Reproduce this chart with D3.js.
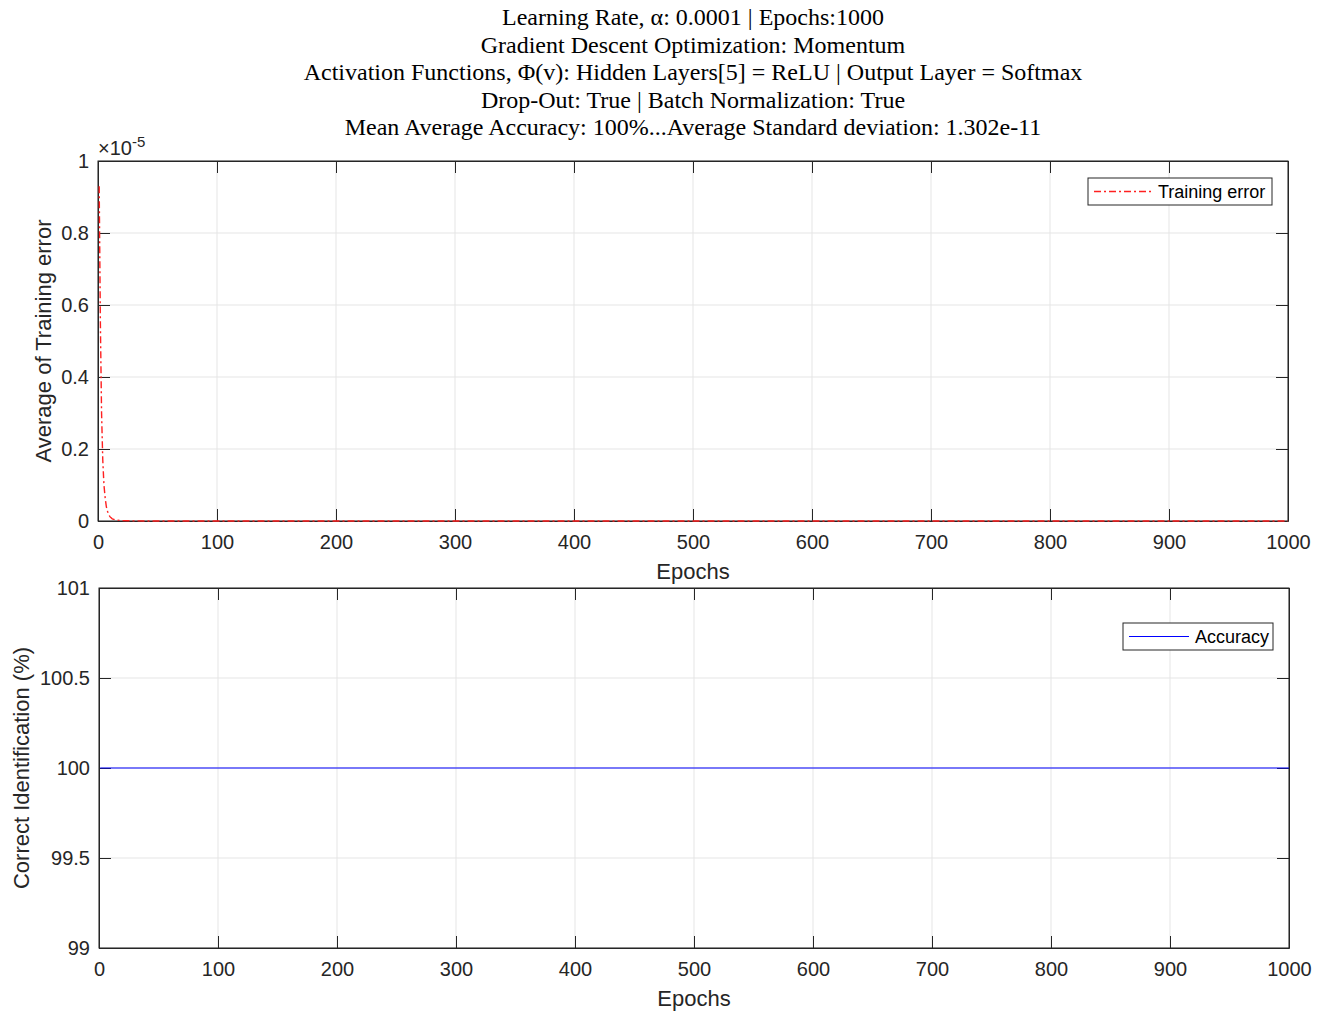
<!DOCTYPE html>
<html>
<head>
<meta charset="utf-8">
<script src="https://cdn.jsdelivr.net/npm/d3@7"></script>
<style>
  body { margin: 0; background: #fff; }
  svg { display: block; }
  text { font-family: "Liberation Sans", Arial, sans-serif; fill: #262626; }
</style>
</head>
<body>
<svg id="svg" width="1325" height="1012"></svg>
<script>
(function() {

    const svg = d3.select('#svg')

    // title lines
    const titleLines = [
        "Learning Rate, \u03B1: 0.0001 | Epochs:1000",
        "Gradient Descent Optimization: Momentum",
        "Activation Functions, \u03A6(v): Hidden Layers[5] = ReLU | Output Layer = Softmax",
        "Drop-Out: True | Batch Normalization: True",
        "Mean Average Accuracy: 100%...Average Standard deviation: 1.302e-11"
    ]

    // training error (x 1e-5)
    const errEpochs = [1, 2, 3, 4, 5, 6, 7, 8, 9, 10, 12, 15, 20, 30, 40, 1000]
    const errValues = [0.93, 0.55, 0.30, 0.17, 0.10, 0.065, 0.04, 0.027, 0.018, 0.012, 0.006, 0.003, 0.001, 0.0003, 0.0001, 0]

    // accuracy (%)
    const accEpochs = [1, 1000]
    const accValues = [100, 100]

    const xTicks = [0, 100, 200, 300, 400, 500, 600, 700, 800, 900, 1000]
    const errTicks = [0, 0.2, 0.4, 0.6, 0.8, 1]
    const accTicks = [99, 99.5, 100, 100.5, 101]

    const axisColor = '#262626'
    const gridColor = '#e5e5e5'

    // title
    svg.append('g').selectAll('text')
        .data(titleLines)
        .enter()
        .append('text')
            .attr('x', 693)
            .attr('y', (d, i) => 25 + i * 27.6)
            .attr('text-anchor', 'middle')
            .style('font-family', '"Liberation Serif", "Times New Roman", serif')
            .style('font-size', '24px')
            .style('fill', '#000')
            .text(d => d)

    function drawAxes(opts) {
        const g = svg.append('g')
        const x = d3.scaleLinear().domain([0, 1000]).range([opts.left, opts.right])
        const y = d3.scaleLinear().domain(opts.yDomain).range([opts.bottom, opts.top])

        // grid
        g.selectAll('.vgrid')
            .data(xTicks)
            .enter()
            .append('line')
                .attr('x1', d => x(d)).attr('x2', d => x(d))
                .attr('y1', opts.top).attr('y2', opts.bottom)
                .style('stroke', gridColor)
                .style('stroke-width', 1)
        g.selectAll('.hgrid')
            .data(opts.yTicks)
            .enter()
            .append('line')
                .attr('x1', opts.left).attr('x2', opts.right)
                .attr('y1', d => y(d)).attr('y2', d => y(d))
                .style('stroke', gridColor)
                .style('stroke-width', 1)

        // axes with inward ticks
        const tickLen = 12
        const fmt = d => String(d)
        const bottomAxis = d3.axisBottom(x).tickValues(xTicks).tickSizeInner(-tickLen).tickSizeOuter(0).tickPadding(14).tickFormat(fmt)
        const topAxis = d3.axisTop(x).tickValues(xTicks).tickSizeInner(-tickLen).tickSizeOuter(0).tickFormat('')
        const leftAxis = d3.axisLeft(y).tickValues(opts.yTicks).tickSizeInner(-tickLen).tickSizeOuter(0).tickPadding(9).tickFormat(fmt)
        const rightAxis = d3.axisRight(y).tickValues(opts.yTicks).tickSizeInner(-tickLen).tickSizeOuter(0).tickFormat('')

        const axes = [
            g.append('g').attr('transform', `translate(0,${opts.bottom})`).call(bottomAxis),
            g.append('g').attr('transform', `translate(0,${opts.top})`).call(topAxis),
            g.append('g').attr('transform', `translate(${opts.left},0)`).call(leftAxis),
            g.append('g').attr('transform', `translate(${opts.right},0)`).call(rightAxis)
        ]
        axes.forEach(a => {
            a.select('.domain').style('stroke', axisColor).style('stroke-width', 1)
            a.selectAll('.tick line').style('stroke', axisColor)
            a.selectAll('.tick text')
                .style('font-family', '"Liberation Sans", Arial, sans-serif')
                .style('font-size', '20px')
                .style('fill', axisColor)
        })
        g.append('rect')
            .attr('x', opts.left).attr('y', opts.top)
            .attr('width', opts.right - opts.left).attr('height', opts.bottom - opts.top)
            .style('fill', 'none')
            .style('stroke', axisColor)
            .style('stroke-width', 1)

        // data line
        const line = d3.line()
            .x(d => x(d[0]))
            .y(d => y(d[1]))
        g.append('path')
            .datum(d3.zip(opts.xs, opts.ys))
            .attr('d', line)
            .style('fill', 'none')
            .style('stroke', opts.color)
            .style('stroke-width', opts.width)
            .style('stroke-dasharray', opts.dash)

        // x label
        g.append('text')
            .attr('x', (opts.left + opts.right) / 2)
            .attr('y', opts.bottom + 58)
            .attr('text-anchor', 'middle')
            .style('font-size', '22px')
            .text('Epochs')

        // y label
        g.append('text')
            .attr('transform', `translate(${opts.yLabelX},${(opts.top + opts.bottom) / 2}) rotate(-90)`)
            .attr('text-anchor', 'middle')
            .style('font-size', '22px')
            .text(opts.yLabel)

        // legend
        const lg = g.append('g')
        lg.append('rect')
            .attr('x', opts.legend.x).attr('y', opts.legend.y)
            .attr('width', opts.legend.w).attr('height', 27)
            .style('fill', '#fff')
            .style('stroke', axisColor)
            .style('stroke-width', 1)
        lg.append('line')
            .attr('x1', opts.legend.x + 6).attr('x2', opts.legend.x + opts.legend.lineW)
            .attr('y1', opts.legend.y + 13.5).attr('y2', opts.legend.y + 13.5)
            .style('stroke', opts.color)
            .style('stroke-width', opts.width)
            .style('stroke-dasharray', opts.dash)
        lg.append('text')
            .attr('x', opts.legend.x + opts.legend.lineW + 6)
            .attr('y', opts.legend.y + 20)
            .style('font-size', '18px')
            .style('fill', '#000')
            .text(opts.legend.label)

        return g
    }

    const top = drawAxes({
        left: 98, right: 1288, top: 161, bottom: 521,
        yDomain: [0, 1], yTicks: errTicks,
        xs: errEpochs, ys: errValues,
        color: '#ff2020', dash: '7,3,2,3', width: 1.4,
        yLabel: 'Average of Training error', yLabelX: 51,
        legend: { x: 1088, y: 178, w: 184, lineW: 64, label: 'Training error' }
    })

    // exponent label
    const ex = top.append('text')
        .attr('x', 98)
        .attr('y', 155)
        .style('font-size', '20px')
        .style('fill', axisColor)
    ex.append('tspan').text('\u00D710')
    ex.append('tspan').attr('dy', -8).style('font-size', '15px').text('-5')

    drawAxes({
        left: 99, right: 1289, top: 588, bottom: 948,
        yDomain: [99, 101], yTicks: accTicks,
        xs: accEpochs, ys: accValues,
        color: '#0000ff', dash: null, width: 1,
        yLabel: 'Correct Identification (%)', yLabelX: 29,
        legend: { x: 1123, y: 623, w: 150, lineW: 66, label: 'Accuracy' }
    })

})();
</script>
</body>
</html>
